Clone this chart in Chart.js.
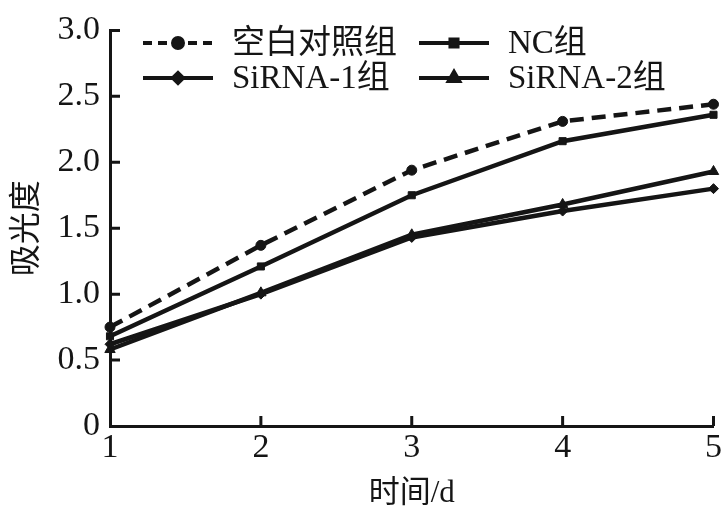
<!DOCTYPE html>
<html>
<head>
<meta charset="utf-8">
<script src="https://cdn.jsdelivr.net/npm/chart.js@4/dist/chart.umd.min.js"></script>
<style>
  html, body { margin: 0; padding: 0; background: #fff; }
  #wrap { width: 724px; height: 516px; position: relative; }
</style>
</head>
<body>
<div id="wrap"><canvas id="chart"></canvas></div>
<script>
// ── data ──
const days = ['1', '2', '3', '4', '5'];
const blankCtrl = [0.75, 1.37, 1.94, 2.31, 2.44];
const ncGroup   = [0.68, 1.21, 1.75, 2.16, 2.36];
const sirna1    = [0.62, 1.00, 1.43, 1.63, 1.80];
const sirna2    = [0.58, 1.01, 1.45, 1.68, 1.93];
const yTicks    = [0, 0.5, 1.0, 1.5, 2.0, 2.5, 3.0];

const INK = '#151515';
const FONT = '"Liberation Serif", "Noto Sans CJK SC", serif';

function series(label, data, style, dash) {
  return {
    label, data,
    borderColor: INK, backgroundColor: INK,
    borderWidth: 4.5, borderDash: dash || [],
    pointStyle: style, pointRadius: style === 'triangle' ? 6 : 5,
    pointBorderWidth: 1, pointBorderColor: INK, pointBackgroundColor: INK,
    tension: 0, fill: false,
  };
}

// inward tick marks, drawn from the scales' own pixel positions
const innerTicks = {
  id: 'innerTicks',
  afterDraw(chart) {
    const { ctx, scales: { x, y } } = chart;
    ctx.save();
    ctx.strokeStyle = INK;
    ctx.lineWidth = 3;
    ctx.beginPath();
    yTicks.forEach(v => {
      if (v === 0) return;
      const py = y.getPixelForValue(v);
      ctx.moveTo(x.left, py); ctx.lineTo(x.left + 10, py);
    });
    x.ticks.forEach((t, i) => {
      if (i === 0) return;
      const px = x.getPixelForTick(i);
      ctx.moveTo(px, y.bottom); ctx.lineTo(px, y.bottom - 10);
    });
    ctx.stroke();
    ctx.restore();
  }
};

// two-column legend with line + marker samples
const gridLegend = {
  id: 'gridLegend',
  afterDraw(chart) {
    const { ctx } = chart;
    const slots = [
      { i: 0, x: 143, y: 43 }, { i: 1, x: 419, y: 43 },
      { i: 2, x: 143, y: 78 }, { i: 3, x: 419, y: 78 },
    ];
    ctx.save();
    ctx.font = '33px ' + FONT;
    ctx.textBaseline = 'middle';
    ctx.fillStyle = INK;
    slots.forEach(s => {
      const ds = chart.data.datasets[s.i];
      ctx.strokeStyle = INK;
      ctx.lineWidth = 4;
      ctx.setLineDash(ds.borderDash.length ? [9, 6] : []);
      ctx.beginPath();
      ctx.moveTo(s.x, s.y); ctx.lineTo(s.x + 70, s.y);
      ctx.stroke();
      ctx.setLineDash([]);
      Chart.helpers.drawPoint(ctx, { pointStyle: ds.pointStyle, radius: ds.pointRadius, borderWidth: 1 }, s.x + 35, s.y);
      ctx.fill();
      ctx.fillText(ds.label, s.x + 89, s.y + 1);
    });
    ctx.restore();
  }
};

new Chart(document.getElementById('chart'), {
  type: 'line',
  data: {
    labels: days,
    datasets: [
      series('空白对照组', blankCtrl, 'circle', [14, 8]),
      series('NC组', ncGroup, 'rect'),
      series('SiRNA-1组', sirna1, 'rectRot'),
      series('SiRNA-2组', sirna2, 'triangle'),
    ]
  },
  plugins: [innerTicks, gridLegend],
  options: {
    responsive: true, maintainAspectRatio: false, animation: false,
    layout: { padding: { top: 18, right: 8, left: 0, bottom: 0 } },
    plugins: { legend: { display: false }, tooltip: { enabled: false } },
    scales: {
      x: {
        offset: false,
        grid: { display: false, drawTicks: false },
        border: { display: true, color: INK, width: 3 },
        ticks: { color: INK, font: { family: FONT, size: 34 }, padding: 2, maxRotation: 0 },
        title: { display: true, text: '时间/d', color: INK, font: { family: FONT, size: 31 }, padding: { top: 0, bottom: 4 } },
        afterFit: s => { s.height = 90; },
      },
      y: {
        min: 0, max: 3,
        grid: { display: false, drawTicks: false },
        border: { display: true, color: INK, width: 3 },
        afterBuildTicks: s => { s.ticks = yTicks.map(v => ({ value: v })); },
        ticks: {
          color: INK, font: { family: FONT, size: 34 }, padding: 10,
          callback: v => v === 0 ? '0' : v.toFixed(1),
        },
        title: { display: true, text: '吸光度', color: INK, font: { family: FONT, size: 32 }, padding: { top: 8, bottom: 0 } },
        afterFit: s => { s.width = 110; },
      }
    }
  }
});
</script>
</body>
</html>
